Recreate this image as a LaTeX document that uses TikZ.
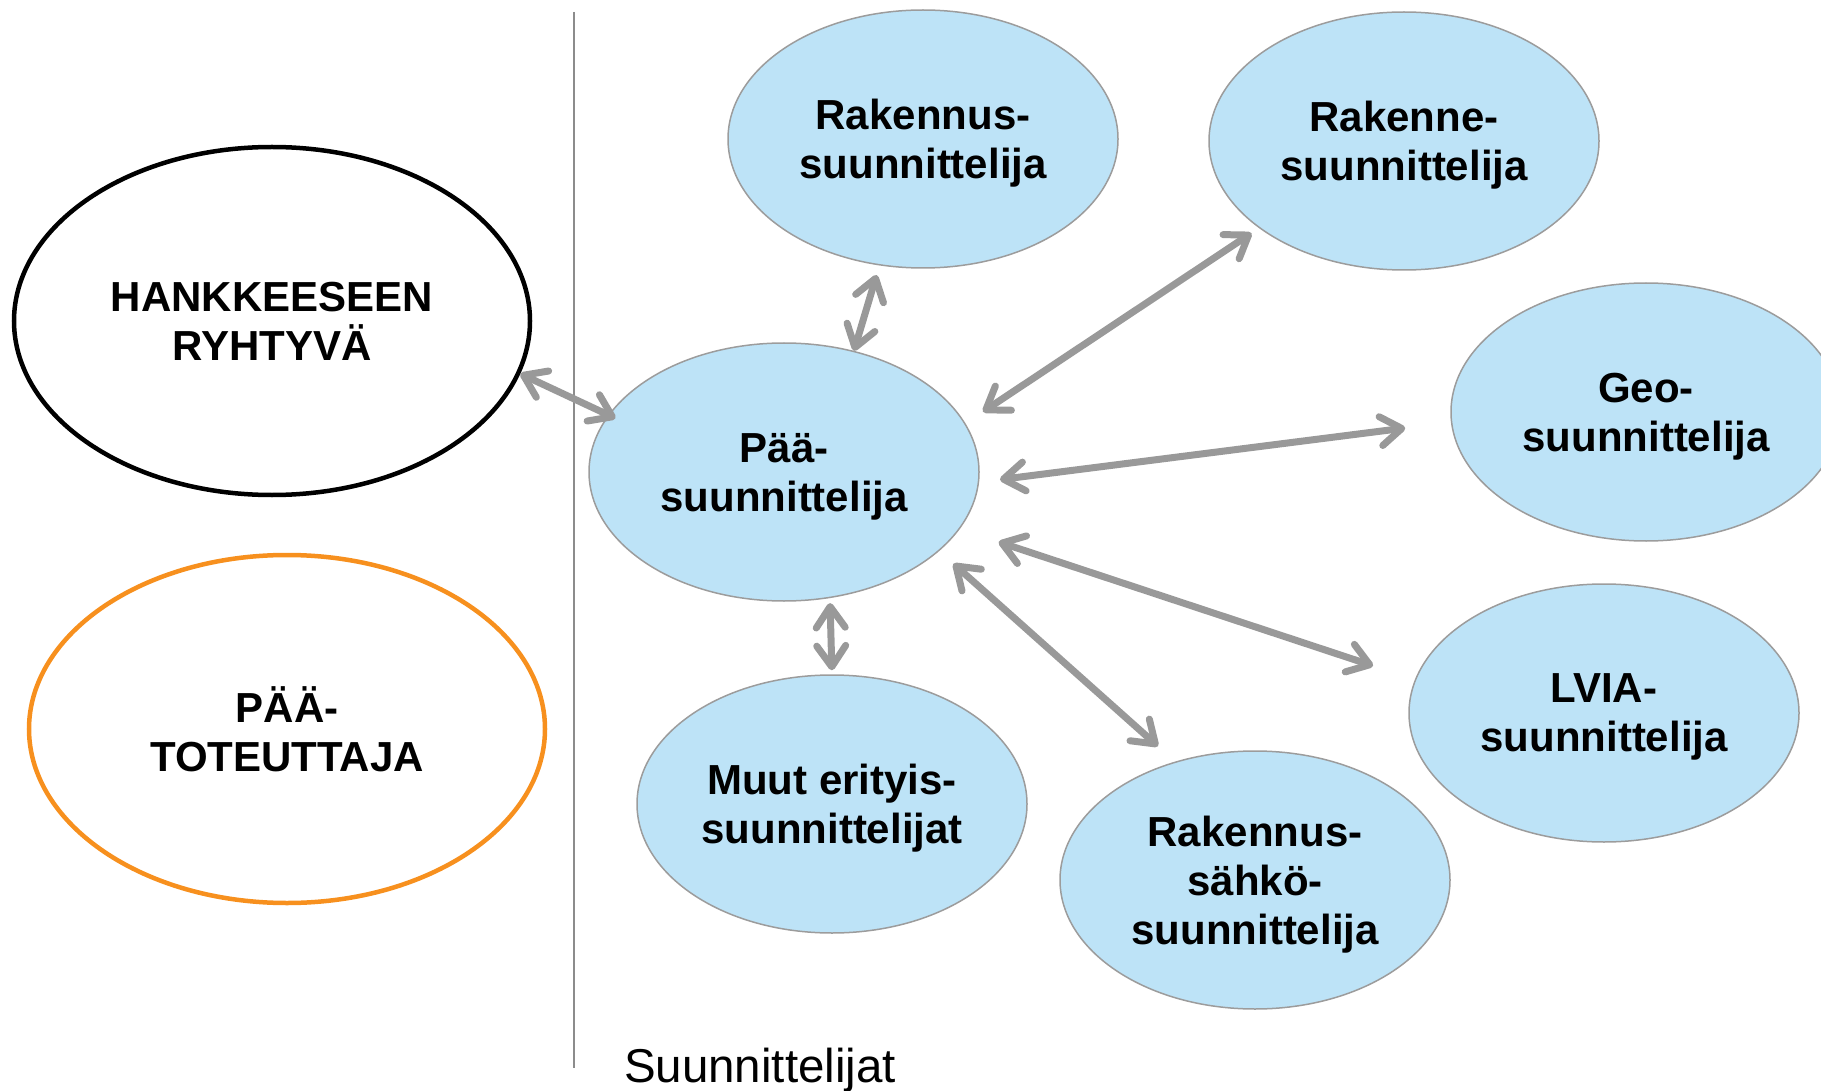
\documentclass[tikz,border=0pt]{standalone}
\usepackage{fontspec}
\setmainfont{Liberation Sans}
\usetikzlibrary{arrows.meta,shapes.geometric}
\definecolor{lightblue}{HTML}{BDE3F7}
\definecolor{edgegray}{HTML}{9C9C9C}
\definecolor{arrowgray}{HTML}{999999}
\definecolor{rulegray}{HTML}{8C8C8C}
\definecolor{orangeline}{HTML}{F7901E}
\tikzstyle{designer} = [ellipse, draw=edgegray, fill=lightblue, line width=1.5pt, minimum width=390pt, minimum height=258pt, inner sep=0pt, text depth=0pt, align=center, font=\fontsize{42}{49}\selectfont\bfseries]
\tikzstyle{party} = [ellipse, fill=white, line width=4.5pt, minimum width=516pt, minimum height=348pt, inner sep=0pt, align=center, font=\fontsize{42}{49}\selectfont\bfseries]
\tikzstyle{link} = [draw=arrowgray, line width=7pt, >={Straight Barb[length=21pt,width=29pt,round]}, <->]

\begin{document}
\begin{tikzpicture}[x=1pt,y=-1pt]
\useasboundingbox (0,0) rectangle (1821,1091);
% left side
\node [party, draw=black] (hank) at (272,321) {HANKKEESEEN\\RYHTYVÄ};
\node [party, draw=orangeline] (toteut) at (287,729) {PÄÄ-\\TOTEUTTAJA};
\draw [rulegray, line width=2pt] (574,12) coordinate (top) -- (574,1068) coordinate (bottom);
% designers
\node [designer] (paa) at (784,472) {Pää-\\suunnittelija};
\node [designer] (rak) at (923,139) {Rakennus-\\suunnittelija};
\node [designer] (rke) at (1404,141) {Rakenne-\\suunnittelija};
\node [designer] (geo) at (1646,412) {Geo-\\suunnittelija};
\node [designer] (lvia) at (1604,713) {LVIA-\\suunnittelija};
\node [designer] (sah) at (1255,880) {Rakennus-\\sähkö-\\suunnittelija};
\node [designer] (muut) at (832,804) {Muut erityis-\\suunnittelijat};
\node [anchor=base, font=\fontsize{47.5}{55}\selectfont] (title) at (760,1082) {Suunnittelijat};
% links
\draw [link] (hank.-12) -- (paa.162) [shorten >=-8pt];
\draw [link, shorten >=10pt] (paa.60) -- (rak.-109);
\draw [link, shorten <=21pt, shorten >=9pt] (paa.15) -- (rke.-149);
\draw [link, shorten <=21pt, shorten >=46pt] (paa.-3) -- (geo.183);
\draw [link, shorten <=41pt, shorten >=44pt] (paa.-18) -- (lvia.170);
\draw [link, shorten <=19pt, shorten >=23pt] (paa.-27) -- (sah.124);
\draw [link, shorten <=5pt, shorten >=4pt] (paa.-70) -- (muut.90);
\end{tikzpicture}
\end{document}
